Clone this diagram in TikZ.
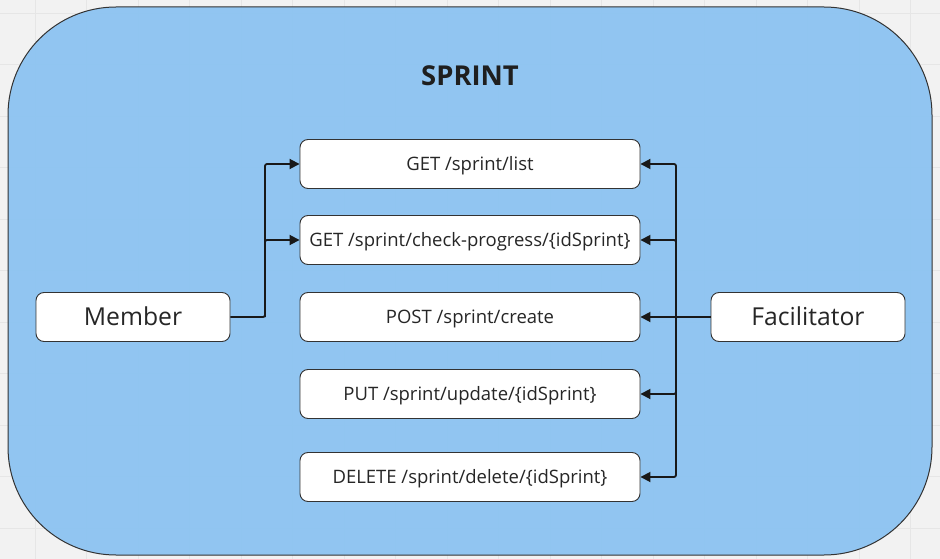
\documentclass[tikz,border=0pt]{standalone}
\usepackage{fontspec}
\setmainfont{Open Sans}
\usetikzlibrary{arrows.meta}
\definecolor{bgc}{HTML}{F2F2F2}
\definecolor{gridc}{HTML}{E6E6E6}
\definecolor{bluec}{RGB}{142,196,241}
\definecolor{edgec}{HTML}{333333}
\tikzset{
  apibox/.style={draw=edgec, line width=0.9pt, fill=white, rounded corners=8pt, minimum width=340pt, minimum height=49pt, inner sep=0pt, text height=17.8pt, text depth=4.6pt, font=\fontsize{18.5}{22}\selectfont, text=black!85},
  actor/.style={draw=edgec, line width=0.9pt, fill=white, rounded corners=8pt, minimum width=194pt, minimum height=49pt, inner sep=0pt, text height=23.8pt, text depth=6.2pt, font=\fontsize{24.7}{29}\selectfont, text=black!85},
  conn/.style={line width=1.8pt, black!90, rounded corners=2pt},
  arr/.style={conn, -{Triangle[length=10pt,width=10pt]}}
}
\begin{document}
\begin{tikzpicture}[x=1pt,y=-1pt]
\useasboundingbox (0,0) rectangle (940,559);
\fill[bgc] (0,0) rectangle (940,559);
\foreach \gx in {35,86.5,...,940} \draw[gridc, line width=0.6pt] (\gx,0) -- (\gx,559);
\foreach \gy in {13,64.5,...,559} \draw[gridc, line width=0.6pt] (0,\gy) -- (940,\gy);
\draw[edgec, line width=1pt, fill=bluec, fill opacity=0.97, rounded corners=108pt] (8,7) rectangle (932,555);
\node[font=\fontsize{27.4}{32}\selectfont\bfseries, text=black!88] (title) at (470,76) {SPRINT};
\node[apibox] (b1) at (470,164) {GET /sprint/list};
\node[apibox] (b2) at (470,240) {GET /sprint/check-progress/\{idSprint\}};
\node[apibox] (b3) at (470,317) {POST /sprint/create};
\node[apibox] (b4) at (470,394) {PUT /sprint/update/\{idSprint\}};
\node[apibox] (b5) at (470,477) {DELETE /sprint/delete/\{idSprint\}};
\node[actor] (mem) at (133,317) {Member};
\node[actor] (fac) at (808,317) {Facilitator};
\coordinate (mj) at (265,317);
\coordinate (fj) at (676,317);
\draw[arr] (mem.east) -- (mj) |- (b1.west);
\draw[arr] (mj) |- (b2.west);
\draw[conn] (fac.west) -- (fj);
\draw[arr] (fj) |- (b1.east);
\draw[arr] (fj) |- (b2.east);
\draw[arr] (fj) -- (b3.east);
\draw[arr] (fj) |- (b4.east);
\draw[arr] (fj) |- (b5.east);
\end{tikzpicture}
\end{document}
